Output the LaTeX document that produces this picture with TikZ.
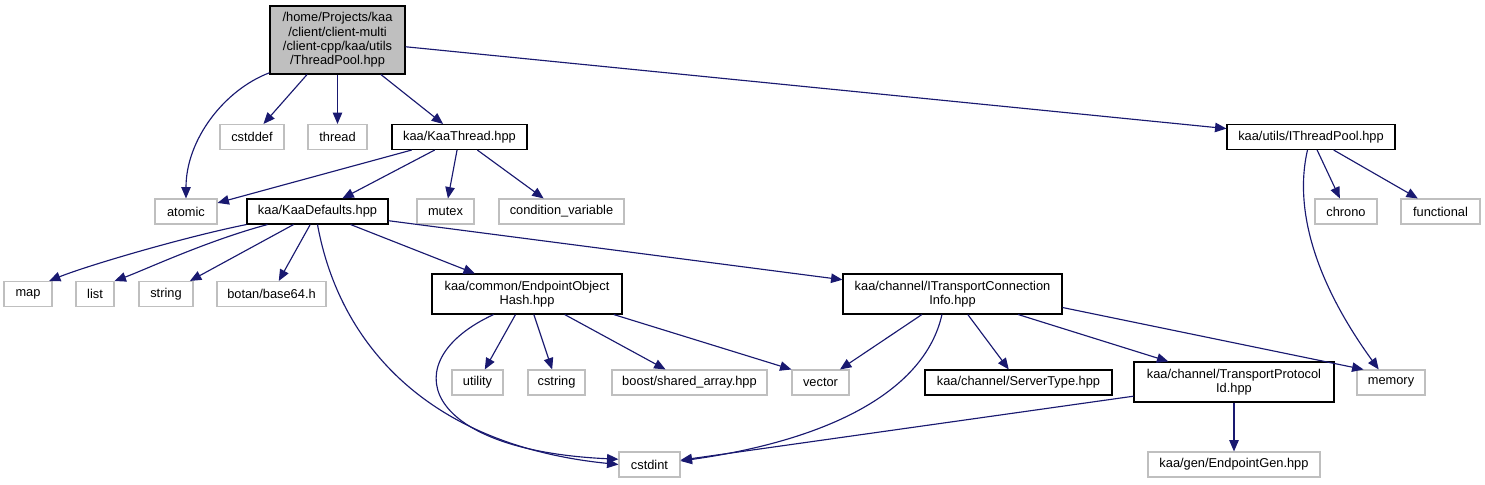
\documentclass[tikz,border=0pt]{standalone}
\usepackage{fontspec}
\setmainfont{Liberation Sans}
\usetikzlibrary{arrows.meta}
\definecolor{edgeblue}{HTML}{191970}
\definecolor{boxgray}{HTML}{BFBFBF}
\newcommand{\pxu}{0.02cm}
\tikzset{
  filebox/.style={inner sep=0pt, line width=0.6pt, align=center,
    minimum height=25*\pxu, font=\fontsize{7.3}{8.1}\selectfont},
  boxw/.style={minimum width=#1*\pxu},
  ext/.style={filebox, draw=boxgray, fill=white},
  hdr/.style={filebox, draw=black, fill=white},
  root/.style={filebox, draw=black, fill=boxgray},
  dep/.style={draw=edgeblue, line width=0.65pt, -{Triangle[length=6.5pt,width=5.4pt]}}
}

\begin{document}
\begin{tikzpicture}[x=\pxu, y=-\pxu]
  \useasboundingbox (0,0) rectangle (1485,484);
  % arquivo analisado
  \node[root, boxw=135, minimum height=68*\pxu] (tp) at (337.5,40)
    {/home/Projects/kaa\\/client/client-multi\\/client-cpp/kaa/utils\\/ThreadPool.hpp};
  % primeiro nivel
  \node[ext, boxw=64] (cstddef) at (252,137) {cstddef};
  \node[ext, boxw=59] (thread) at (337.5,137) {thread};
  \node[hdr, boxw=135] (kthread) at (459.5,137) {kaa/KaaThread.hpp};
  \node[hdr, boxw=168] (itp) at (1311,137) {kaa/utils/IThreadPool.hpp};
  % segundo nivel
  \node[ext, boxw=62] (atomic) at (186,211.5) {atomic};
  \node[hdr, boxw=141] (kdef) at (317.5,211.5) {kaa/KaaDefaults.hpp};
  \node[ext, boxw=57] (mutex) at (445.5,211.5) {mutex};
  \node[ext, boxw=125] (condvar) at (561.5,211.5) {condition\_variable};
  \node[ext, boxw=62] (chrono) at (1346,211.5) {chrono};
  \node[ext, boxw=79] (functional) at (1440.5,211.5) {functional};
  % terceiro nivel
  \node[ext, boxw=48] (map) at (28,294) {map};
  \node[ext, boxw=38] (list) at (95,294) {list};
  \node[ext, boxw=54] (string) at (166,294) {string};
  \node[ext, boxw=109] (botan) at (271.5,294) {botan/base64.h};
  \node[hdr, boxw=190, minimum height=40*\pxu] (eoh) at (527,294)
    {kaa/common/EndpointObject\\Hash.hpp};
  \node[hdr, boxw=219, minimum height=40*\pxu] (itci) at (952.5,294)
    {kaa/channel/ITransportConnection\\Info.hpp};
  % quarto nivel
  \node[ext, boxw=51] (utility) at (477.5,382.5) {utility};
  \node[ext, boxw=57] (cstring) at (556.5,382.5) {cstring};
  \node[ext, boxw=155] (boost) at (689.5,382.5) {boost/shared\_array.hpp};
  \node[ext, boxw=57] (vector) at (820.5,382.5) {vector};
  \node[hdr, boxw=187] (stype) at (1018.5,382.5) {kaa/channel/ServerType.hpp};
  \node[hdr, boxw=200, minimum height=40*\pxu] (tpi) at (1234,382)
    {kaa/channel/TransportProtocol\\Id.hpp};
  \node[ext, boxw=68] (memory) at (1391,382.5) {memory};
  % ultimo nivel
  \node[ext, boxw=61] (cstdint) at (649.5,464.5) {cstdint};
  \node[ext, boxw=172] (epgen) at (1234,464.5) {kaa/gen/EndpointGen.hpp};

  % dependencias
  \draw[dep] ([yshift=1pt]tp.south west) .. controls +(-45,17) and +(0,-59) .. (atomic.north);
  \draw[dep] (tp) -- (cstddef);
  \draw[dep] (tp) -- (thread);
  \draw[dep] (tp) -- (kthread);
  \draw[dep] (tp) -- (itp);
  \draw[dep] (kthread) -- (atomic);
  \draw[dep] (kthread) -- (kdef);
  \draw[dep] (kthread) -- (mutex);
  \draw[dep] (kthread) -- (condvar);
  \draw[dep] ([xshift=-2pt]itp.south) .. controls +(-15,65) and +(-58,-80) .. ([xshift=-7pt]memory.north);
  \draw[dep] (itp) -- (chrono);
  \draw[dep] (itp) -- (functional);
  \draw[dep] (kdef.south west) .. controls +(-60,12) and +(40,-16) .. ([xshift=-2pt]map.north east);
  \draw[dep] ([xshift=12pt]kdef.south west) .. controls +(-60,16) and +(30,-11) .. (list.north east);
  \draw[dep] (kdef) -- (string);
  \draw[dep] (kdef) -- (botan);
  \draw[dep] (kdef.south) .. controls +(22,121) and +(-189,-19) .. (cstdint.west);
  \draw[dep] (kdef) -- (eoh);
  \draw[dep] (kdef) -- (itci);
  \draw[dep] ([xshift=-19pt]eoh.south) .. controls +(-100,46) and +(-199,-9) .. ([yshift=3pt]cstdint.west);
  \draw[dep] (eoh) -- (utility);
  \draw[dep] (eoh) -- (cstring);
  \draw[dep] (eoh) -- (boost);
  \draw[dep] ([xshift=-5pt]eoh.south east) -- (vector.north west);
  \draw[dep] (itci) -- (vector);
  \draw[dep] ([xshift=-6pt]itci.south) .. controls +(-17,76) and +(150,-21) .. ([yshift=2pt]cstdint.east);
  \draw[dep] (itci) -- (stype);
  \draw[dep] (itci) -- (tpi);
  \draw[dep] ([yshift=4pt]itci.south east) -- ([xshift=4pt]memory.north west);
  \draw[dep] (tpi) -- (cstdint);
  \draw[dep] (tpi) -- (epgen);
\end{tikzpicture}
\end{document}
